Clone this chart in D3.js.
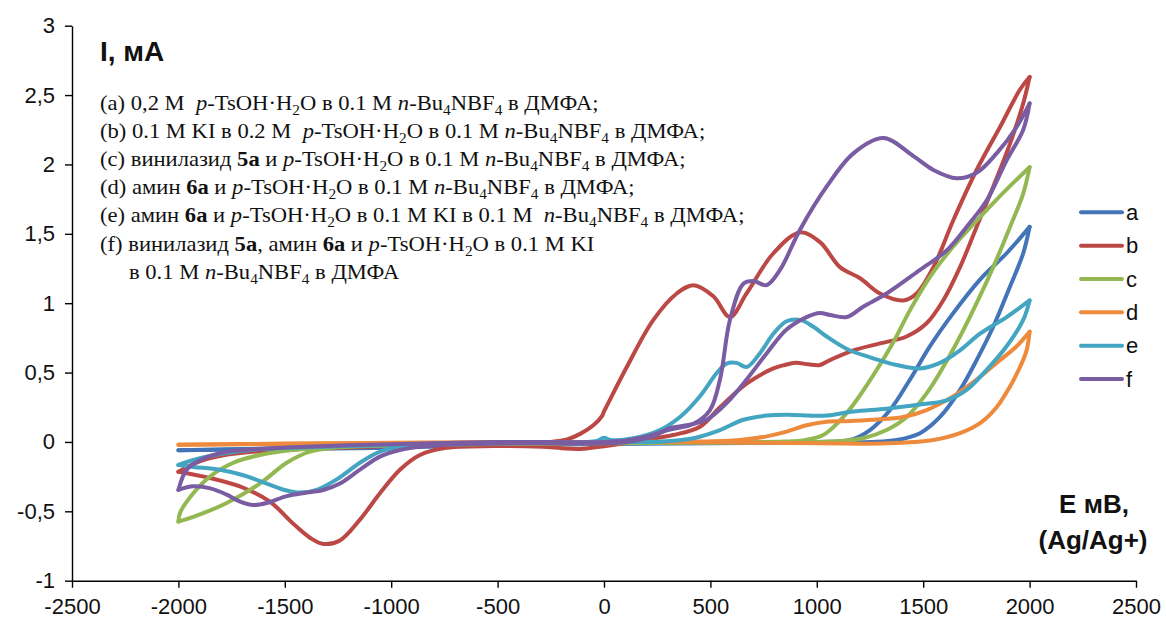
<!DOCTYPE html>
<html>
<head>
<meta charset="utf-8">
<script src="https://cdn.jsdelivr.net/npm/d3@7"></script>
<style>
  body { margin: 0; background: #fff; }
</style>
</head>
<body>
<svg id="chart" width="1166" height="624"></svg>
<script>
const xTicks = [-2500, -2000, -1500, -1000, -500, 0, 500, 1000, 1500, 2000, 2500];
const yTicks = [-1, -0.5, 0, 0.5, 1, 1.5, 2, 2.5, 3];
const seriesNames = ["a", "b", "c", "d", "e", "f"];

// [E, mV ; I, mA], forward branch -2000 -> 2000, reverse branch 2000 -> -2000
const aFwd = [[-2000,-0.06],[-1500,-0.05],[-1000,-0.04],[-800,-0.025],[-500,-0.01],[0,0],[500,0],[1000,0],[1156,0.014],[1250,0.086],[1344,0.23],[1438,0.45],[1532,0.69],[1642,0.93],[1767,1.17],[1892,1.36],[2000,1.55]];
const aRev = [[2000,1.55],[1970,1.36],[1908,1.12],[1829,0.83],[1751,0.59],[1673,0.375],[1579,0.18],[1485,0.063],[1375,0.014],[1250,0],[1000,-0.005],[500,-0.01],[0,-0.015],[-500,-0.025],[-1000,-0.04],[-1500,-0.045],[-2000,-0.06]];

const bFwd = [[-2000,-0.215],[-1900,-0.14],[-1800,-0.1],[-1600,-0.065],[-1300,-0.045],[-1000,-0.03],[-700,-0.02],[-400,-0.01],[-250,0],[-170,0.02],[-110,0.06],[-50,0.12],[-8,0.19],[0,0.22],[10,0.25],[107,0.54],[232,0.88],[342,1.07],[420,1.13],[514,1.05],[592,0.9],[670,1.07],[796,1.36],[921,1.51],[1015,1.44],[1109,1.26],[1203,1.18],[1297,1.07],[1407,1.02],[1469,1.07],[1548,1.26],[1642,1.6],[1751,1.96],[1861,2.27],[1955,2.54],[2000,2.63]];
const bRev = [[2000,2.63],[1970,2.44],[1908,2.15],[1829,1.84],[1751,1.55],[1673,1.26],[1594,1.02],[1516,0.855],[1422,0.76],[1297,0.71],[1172,0.66],[1062,0.59],[1015,0.555],[960,0.56],[900,0.57],[850,0.555],[796,0.53],[670,0.42],[545,0.25],[451,0.11],[326,0.05],[185,0.015],[50,-0.02],[-50,-0.04],[-120,-0.05],[-200,-0.045],[-287,-0.035],[-522,-0.03],[-755,-0.045],[-865,-0.094],[-959,-0.2],[-1053,-0.37],[-1147,-0.56],[-1241,-0.71],[-1319,-0.735],[-1382,-0.69],[-1460,-0.59],[-1570,-0.43],[-1695,-0.33],[-1852,-0.26],[-2000,-0.215]];

const cFwd = [[-2000,-0.574],[-1992,-0.51],[-1930,-0.37],[-1852,-0.25],[-1742,-0.15],[-1617,-0.094],[-1460,-0.058],[-1200,-0.035],[-900,-0.02],[-500,-0.01],[0,0],[500,0],[850,0.003],[950,0.015],[1030,0.05],[1100,0.14],[1172,0.27],[1265,0.48],[1360,0.72],[1438,0.95],[1532,1.19],[1642,1.41],[1767,1.62],[1892,1.82],[2000,1.98]];
const cRev = [[2000,1.98],[1970,1.79],[1908,1.55],[1829,1.26],[1751,1.0],[1673,0.76],[1594,0.54],[1516,0.35],[1422,0.18],[1328,0.086],[1218,0.027],[1109,0.007],[1000,0],[500,-0.005],[0,-0.01],[-500,-0.015],[-1000,-0.025],[-1225,-0.034],[-1382,-0.07],[-1491,-0.15],[-1617,-0.3],[-1773,-0.44],[-1930,-0.54],[-2000,-0.574]];

const dFwd = [[-2000,-0.02],[-1500,-0.012],[-1000,-0.006],[-500,-0.003],[0,0],[500,-0.003],[1015,-0.01],[1328,-0.01],[1548,0.014],[1673,0.063],[1767,0.135],[1845,0.25],[1908,0.4],[1955,0.54],[1986,0.66],[2000,0.795]];
const dRev = [[2000,0.795],[1939,0.69],[1845,0.57],[1751,0.45],[1642,0.33],[1516,0.23],[1407,0.18],[1266,0.16],[1141,0.15],[1046,0.146],[952,0.12],[858,0.074],[765,0.04],[639,0.014],[420,0.002],[0,0],[-500,-0.004],[-1000,-0.008],[-1500,-0.014],[-2000,-0.02]];

const eFwd = [[-2000,-0.166],[-1930,-0.13],[-1773,-0.08],[-1617,-0.053],[-1200,-0.03],[-800,-0.015],[-400,-0.005],[-40,0.005],[0,0.03],[30,0.015],[138,0.027],[263,0.086],[357,0.18],[451,0.33],[529,0.495],[576,0.565],[623,0.57],[670,0.54],[733,0.64],[796,0.78],[858,0.87],[921,0.88],[984,0.83],[1046,0.76],[1141,0.67],[1250,0.61],[1375,0.555],[1485,0.53],[1579,0.57],[1673,0.66],[1767,0.78],[1892,0.9],[2000,1.02]];
const eRev = [[2000,1.02],[1970,0.88],[1892,0.69],[1798,0.52],[1704,0.375],[1610,0.3],[1485,0.27],[1328,0.24],[1172,0.22],[1046,0.19],[960,0.19],[890,0.195],[765,0.19],[655,0.16],[545,0.086],[420,0.027],[263,0.002],[100,0],[0,-0.005],[-400,-0.008],[-833,-0.014],[-959,-0.034],[-1053,-0.07],[-1147,-0.15],[-1256,-0.27],[-1350,-0.345],[-1429,-0.365],[-1491,-0.35],[-1585,-0.3],[-1695,-0.24],[-1805,-0.2],[-1930,-0.18],[-2000,-0.166]];

const fFwd = [[-2000,-0.346],[-1961,-0.2],[-1883,-0.12],[-1773,-0.07],[-1617,-0.05],[-1400,-0.035],[-1100,-0.02],[-800,-0.01],[-500,0],[0,0],[107,0.01],[200,0.04],[310,0.09],[420,0.13],[498,0.23],[545,0.45],[592,0.88],[655,1.14],[702,1.16],[764,1.13],[827,1.24],[921,1.53],[1046,1.84],[1172,2.08],[1313,2.19],[1454,2.06],[1548,1.96],[1657,1.9],[1751,1.94],[1845,2.08],[1939,2.27],[2000,2.44]];
const fRev = [[2000,2.44],[1970,2.25],[1892,2.03],[1798,1.74],[1704,1.55],[1610,1.38],[1485,1.24],[1328,1.07],[1218,0.975],[1141,0.9],[1062,0.915],[1015,0.93],[952,0.9],[858,0.81],[765,0.64],[670,0.45],[576,0.28],[482,0.16],[388,0.12],[310,0.1],[232,0.04],[107,0],[0,-0.01],[-300,-0.01],[-600,-0.015],[-833,-0.029],[-959,-0.058],[-1053,-0.106],[-1147,-0.2],[-1241,-0.3],[-1319,-0.346],[-1397,-0.365],[-1491,-0.39],[-1585,-0.44],[-1648,-0.454],[-1710,-0.43],[-1773,-0.38],[-1850,-0.335],[-1930,-0.32],[-2000,-0.346]];

const noteLines = [
  "(a) 0,2 М  *p*-TsOH·H_2_O в 0.1 М *n*-Bu_4_NBF_4_ в ДМФА;",
  "(b) 0.1 М KI в 0.2 М  *p*-TsOH·H_2_O в 0.1 М *n*-Bu_4_NBF_4_ в ДМФА;",
  "(c) винилазид #5а# и *p*-TsOH·H_2_O в 0.1 М *n*-Bu_4_NBF_4_ в ДМФА;",
  "(d) амин #6а# и *p*-TsOH·H_2_O в 0.1 М *n*-Bu_4_NBF_4_ в ДМФА;",
  "(e) амин #6а# и *p*-TsOH·H_2_O в 0.1 М KI в 0.1 М  *n*-Bu_4_NBF_4_ в ДМФА;",
  "(f) винилазид #5а#, амин #6а# и *p*-TsOH·H_2_O в 0.1 М KI",
  "в 0.1 М *n*-Bu_4_NBF_4_ в ДМФА"
];

const curves = [[aFwd, aRev], [bFwd, bRev], [cFwd, cRev], [dFwd, dRev], [eFwd, eRev], [fFwd, fRev]];
const colors = ["#4474B8", "#BC4845", "#93B852", "#ED8A3C", "#43A5C1", "#7A5CA2"];
const sans = "'Liberation Sans', Arial, sans-serif";
const serif = "'Liberation Serif', 'Times New Roman', serif";

const svg = d3.select("#chart");
const x = d3.scaleLinear().domain([-2500, 2500]).range([72, 1136]);
const y = d3.scaleLinear().domain([-1, 3]).range([580.7, 25.7]);
const fmt = d => String(d).replace(".", ",");

// axes
const xAxis = svg.append("g")
  .attr("transform", `translate(0,${y(-1)})`)
  .call(d3.axisBottom(x).tickValues(xTicks).tickSize(7).tickSizeOuter(0).tickPadding(11).tickFormat(d => String(d)));
const yAxis = svg.append("g")
  .attr("transform", `translate(${x(-2500)},0)`)
  .call(d3.axisLeft(y).tickValues(yTicks).tickSize(7).tickSizeOuter(0).tickPadding(10).tickFormat(fmt));
[xAxis, yAxis].forEach(g => {
  g.selectAll("path, line").attr("stroke", "#000").attr("stroke-width", 1.4);
  g.selectAll("text").style("font-family", sans).style("font-size", "22px").attr("fill", "#111");
});

// curves
const line = d3.line()
  .x(d => x(d[0]))
  .y(d => y(d[1]))
  .curve(d3.curveCatmullRom.alpha(0.5));

curves.forEach((branches, i) => {
  branches.forEach(pts => {
    svg.append("path")
      .attr("d", line(pts))
      .attr("fill", "none")
      .attr("stroke", colors[i])
      .attr("stroke-width", 4)
      .attr("stroke-linejoin", "round")
      .attr("stroke-linecap", "round");
  });
});

// axis titles
function boldLabel(tx, ty, anchor, size, str) {
  svg.append("text")
    .attr("x", tx).attr("y", ty)
    .attr("text-anchor", anchor)
    .style("font-family", sans).style("font-size", size + "px").style("font-weight", "bold")
    .attr("fill", "#111")
    .text(str);
}
boldLabel(100, 61, "start", 28, "I, мА");
boldLabel(1094, 513, "middle", 26, "E мВ,");
boldLabel(1093, 549, "middle", 26, "(Ag/Ag+)");

// series legend
const legend = svg.append("g");
seriesNames.forEach((name, i) => {
  const ly = 212.3 + i * 33.35;
  legend.append("line")
    .attr("x1", 1081).attr("x2", 1122).attr("y1", ly).attr("y2", ly)
    .attr("stroke", colors[i]).attr("stroke-width", 4).attr("stroke-linecap", "round");
  legend.append("text")
    .attr("x", 1126).attr("y", ly)
    .attr("dy", "0.35em")
    .style("font-family", sans).style("font-size", "22px")
    .attr("fill", "#111")
    .text(name);
});

// conditions text
function addRich(textSel, str) {
  let shift = 0;
  str.split(/(\*[^*]+\*|#[^#]+#|_[^_]+_)/).filter(s => s.length).forEach(tok => {
    let t;
    if (tok[0] === "*") {
      t = textSel.append("tspan").style("font-style", "italic").text(tok.slice(1, -1));
      t.attr("dy", -shift); shift = 0;
    } else if (tok[0] === "#") {
      t = textSel.append("tspan").style("font-weight", "bold").text(tok.slice(1, -1));
      t.attr("dy", -shift); shift = 0;
    } else if (tok[0] === "_") {
      t = textSel.append("tspan").style("font-size", "0.68em").text(tok.slice(1, -1));
      t.attr("dy", 5 - shift); shift = 5;
    } else {
      t = textSel.append("tspan").text(tok);
      t.attr("dy", -shift); shift = 0;
    }
  });
}

noteLines.forEach((str, i) => {
  const g = svg.append("g")
    .attr("transform", `translate(${i === 6 ? 129 : 100},${109.5 + i * 28.2}) scale(1.13,1)`);
  const t = g.append("text")
    .attr("x", 0).attr("y", 0)
    .style("font-family", serif)
    .style("font-size", "20px")
    .style("white-space", "pre")
    .attr("fill", "#111");
  addRich(t, str);
});
</script>
</body>
</html>
